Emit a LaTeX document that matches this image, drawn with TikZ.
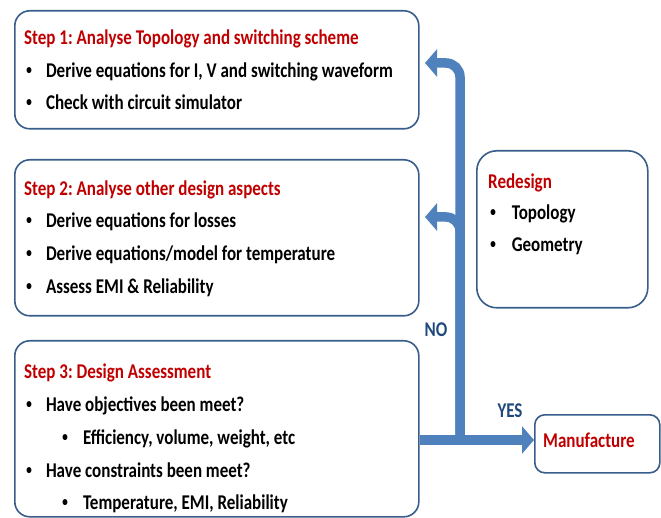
\documentclass[tikz,border=0pt]{standalone}
\usepackage{fontspec}
\setmainfont{Carlito}
\newfontfamily\bulfont{Liberation Sans}
\usetikzlibrary{arrows.meta}

\definecolor{flowblue}{HTML}{4F81BD}
\definecolor{boxblue}{HTML}{385D8A}
\definecolor{stepred}{HTML}{C00000}
\definecolor{tagblue}{HTML}{1F497D}

\newcommand{\bul}[1][24.5pt]{\makebox[#1][l]{\bulfont\textbullet}}
\newcommand{\txtfont}{\fontsize{21}{24}\selectfont\bfseries\frenchspacing}

\tikzset{
  box/.style={draw=boxblue, line width=1.6pt, rounded corners=15pt, anchor=north west, inner sep=0pt},
  title/.style={anchor=base west, inner sep=0pt, text=stepred, font=\txtfont, xscale=0.81, transform shape},
  item/.style={anchor=base west, inner sep=0pt, font=\txtfont, xscale=0.81, transform shape},
  tag/.style={inner sep=0pt, text=tagblue, font=\txtfont, xscale=0.81, transform shape},
  flow/.style={draw=flowblue, line width=9.5pt, -{Triangle[length=12pt,width=27pt]}}
}

\begin{document}
\begin{tikzpicture}[x=1pt,y=-1pt]
            \useasboundingbox (0,0) rectangle (661,518);

            % boxes
            \node[box, minimum width=404pt, minimum height=118pt] (s1) at (14,10) {};
            \node[box, minimum width=404pt, minimum height=156pt] (s2) at (14,159) {};
            \node[box, minimum width=404pt, minimum height=176pt] (s3) at (14,340) {};
            \node[box, minimum width=171pt, minimum height=157pt, rounded corners=20pt] (redo) at (476,150) {};
            \node[box, minimum width=125pt, minimum height=58pt, rounded corners=10pt] (mfg) at (534,414) {};

            % step 1
            \node[title] (t1) at (24,45) {Step 1: Analyse Topology and switching scheme};
            \node[item] (a1) at (26,78) {\bul Derive equations for I, V and switching waveform};
            \node[item] (a2) at (26,110) {\bul Check with circuit simulator};

            % step 2
            \node[title] (t2) at (24,196) {Step 2: Analyse other design aspects};
            \node[item] (b1) at (26,228) {\bul Derive equations for losses};
            \node[item] (b2) at (26,261) {\bul Derive equations/model for temperature};
            \node[item] (b3) at (26,294) {\bul Assess EMI \& Reliability};

            % step 3
            \node[title] (t3) at (24,378) {Step 3: Design Assessment};
            \node[item] (c1) at (26,411) {\bul Have objectives been meet?};
            \node[item] (c2) at (62,444) {\bul[21pt] Efficiency, volume, weight, etc};
            \node[item] (c3) at (26,477) {\bul Have constraints been meet?};
            \node[item] (c4) at (62,509) {\bul[21pt] Temperature, EMI, Reliability};

            % redesign
            \node[title] (t4) at (488,189) {Redesign};
            \node[item] (d1) at (490,220) {\bul[22pt] Topology};
            \node[item] (d2) at (490,252) {\bul[22pt] Geometry};

            \node[title] (t5) at (543,447) {Manufacture};

            \node[tag] (no) at (436,330) {NO};
            \node[tag] (yes) at (510,411) {YES};

            % feedback and output arrows
            \coordinate (j) at (460,440);
            \coordinate (back1) at (425,63);
            \coordinate (back2) at (425,217);
            \draw[flow, rounded corners=14pt] (j) |- (back1);
            \draw[flow, rounded corners=14pt] (j) |- (back2);
            \draw[flow] (s3.east |- j) -- (mfg.west |- j);
        \end{tikzpicture}
\end{document}
